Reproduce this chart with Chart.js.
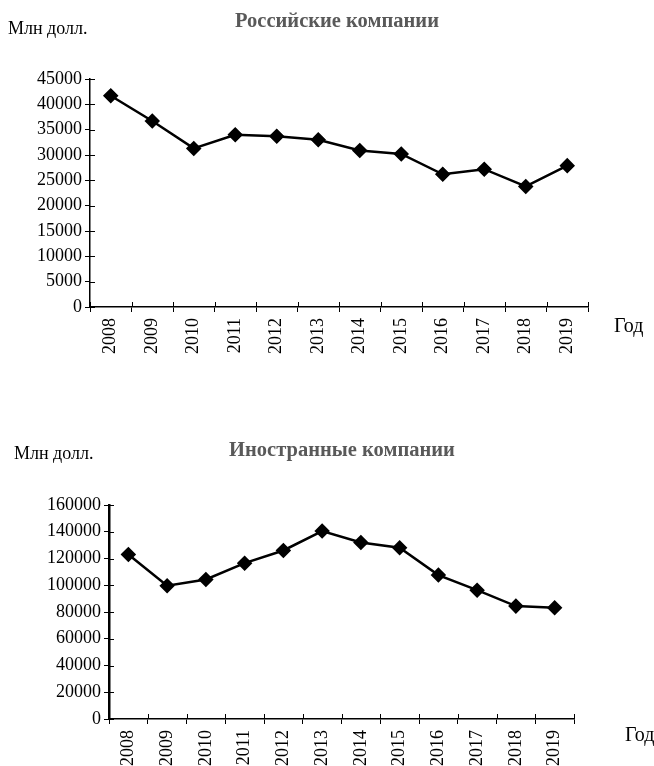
<!DOCTYPE html>
<html>
<head>
<meta charset="utf-8">
<script src="https://cdn.jsdelivr.net/npm/chart.js@4.4.1/dist/chart.umd.min.js"></script>
<style>
  html, body { margin: 0; padding: 0; background: #fff; }
  body { width: 654px; height: 766px; position: relative; overflow: hidden; font-family: "Liberation Serif", "Times New Roman", serif; }
  .box { position: absolute; left: 0; width: 654px; }
  .txt { position: absolute; white-space: nowrap; font-size: 18px; color: #000; line-height: 1; }
  .god { font-size: 20px; }
  .ttl { position: absolute; white-space: nowrap; font-size: 20.5px; font-weight: bold; color: #595959; line-height: 1; transform: translateX(-50%); }
</style>
</head>
<body>
<div class="box" style="top:0;height:383px"><canvas id="chartRu"></canvas></div>
<div class="box" style="top:383px;height:383px"><canvas id="chartFor"></canvas></div>

<div class="ttl" style="left:337px;top:10px">Российские компании</div>
<div class="txt" style="left:8px;top:19px">Млн долл.</div>
<div class="txt god" style="left:614px;top:315px">Год</div>

<div class="ttl" style="left:342px;top:439px">Иностранные компании</div>
<div class="txt" style="left:14px;top:444px">Млн долл.</div>
<div class="txt god" style="left:625px;top:724px">Год</div>

<script>
// ===== data =====
const years      = ["2008","2009","2010","2011","2012","2013","2014","2015","2016","2017","2018","2019"];
const ruValues   = [41700, 36700, 31300, 34000, 33700, 33000, 30900, 30200, 26200, 27200, 23800, 27900];
const forValues  = [123000, 99600, 104300, 116500, 126000, 140500, 132000, 128000, 107600, 96300, 84400, 83100];
// =====================================

const FONT = { family: "'Liberation Serif', 'Times New Roman', serif", size: 18 };

// small ticks crossing the axes (inner half; outer half is the library's tickLength)
const crossTicks = {
  id: "crossTicks",
  afterDraw(chart){
    const ctx = chart.ctx, x = chart.scales.x, y = chart.scales.y;
    const n = x.ticks.length;
    ctx.save();
    ctx.strokeStyle = "#000";
    ctx.lineWidth = 1;
    ctx.beginPath();
    for (let i = 0; i <= n; i++){
      const px = Math.round(x.getPixelForDecimal(i / n)) + 0.5;
      ctx.moveTo(px, x.top);
      ctx.lineTo(px, x.top - 5);
    }
    y.ticks.forEach(t => {
      const py = Math.round(y.getPixelForValue(t.value)) + 0.5;
      ctx.moveTo(y.right, py);
      ctx.lineTo(y.right + 5, py);
    });
    ctx.stroke();
    ctx.restore();
  }
};

function drawYearLine(canvas, values, opt){
  return new Chart(canvas, {
    type: "line",
    data: {
      labels: years,
      datasets: [{
        data: values,
        borderColor: "#000",
        borderWidth: 2.5,
        backgroundColor: "#000",
        pointStyle: "rectRot",
        pointRadius: 6,
        pointHoverRadius: 6,
        tension: 0,
        fill: false
      }]
    },
    options: {
      responsive: true,
      maintainAspectRatio: false,
      animation: false,
      layout: { padding: { left: 0, top: opt.top, right: 654 - opt.right, bottom: 0 } },
      plugins: { legend: { display: false }, tooltip: { enabled: false }, title: { display: false } },
      scales: {
        x: {
          offset: true,
          grid: { offset: true, drawOnChartArea: false, drawTicks: true, tickLength: 5, color: "#000" },
          border: { color: "#000", width: 1.5 },
          ticks: { color: "#000", font: FONT, minRotation: 90, maxRotation: 90, padding: 6, autoSkip: false },
          afterFit: s => { s.height = 383 - opt.bottom; }
        },
        y: {
          min: 0, max: opt.max,
          grid: { drawOnChartArea: false, drawTicks: true, tickLength: 5, color: "#000" },
          border: { color: "#000", width: opt.yBorder },
          ticks: { color: "#000", font: FONT, stepSize: opt.step, padding: 3, callback: v => String(v) },
          afterFit: s => { s.width = opt.left; }
        }
      }
    },
    plugins: [crossTicks]
  });
}

drawYearLine(document.getElementById("chartRu"), ruValues,
  { left: 90, right: 588, top: 79, bottom: 307, max: 45000, step: 5000, yBorder: 1.5 });
drawYearLine(document.getElementById("chartFor"), forValues,
  { left: 109, right: 574, top: 122, bottom: 336, max: 160000, step: 20000, yBorder: 2.5 });
</script>
</body>
</html>
